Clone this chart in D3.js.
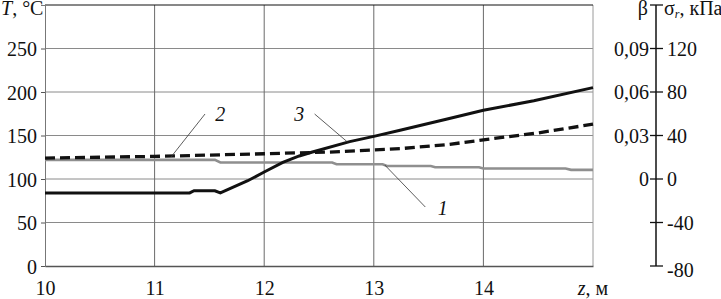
<!DOCTYPE html>
<html>
  <head>
    <script src="https://d3js.org/d3.v7.min.js"></script>
    <style>
      body {
        margin: 0px;
        background: white;
      }
      svg text {
        font-family: "Liberation Serif", "Times New Roman", Times, "DejaVu Serif", serif !important;
        font-size: 20px;
        fill: #111;
      }
      .grid line {
        stroke: #8a8a8a;
        stroke-width: 1;
      }
      .vgrid line {
        stroke: #6a6a6a;
        stroke-width: 1;
      }
    </style>
  </head>
  <body>
    <svg width="721" height="299"></svg>
    <script>
      // ticks
      var zTicks = [10, 11, 12, 13, 14, 15];
      var tTicks = [0, 50, 100, 150, 200, 250];
      var betaTicks = [0, 0.03, 0.06, 0.09];
      var sigmaTicks = [-80, -40, 0, 40, 80, 120];

      // curve 1 (grey)
      var z1 = [10, 11.55, 11.6, 12.62, 12.66, 13.08, 13.12, 13.52, 13.56, 13.96, 14.0, 14.75, 14.8, 15];
      var t1 = [122, 122, 119, 119, 117, 117, 115, 115, 113.5, 113.5, 112, 112, 110.5, 110.5];

      // curve 2 (dashed)
      var z2 = [10, 10.5, 11, 11.5, 12, 12.6, 13, 13.25, 13.67, 14, 14.5, 15];
      var t2 = [124, 125, 126, 127.5, 129, 131, 133.5, 135, 139.5, 145, 153, 163];

      // curve 3 (solid)
      var z3 = [10, 11.32, 11.36, 11.55, 11.6, 11.85, 12.0, 12.17, 12.32, 12.44, 12.78, 13, 13.24, 13.67, 14, 14.46, 15];
      var t3 = [84, 84, 86.5, 86.5, 84, 98, 108, 119, 126.5, 131, 143, 149, 156, 169, 179, 190, 205];

      // curve labels: text position and leader line, in data units
      var labelText = ["1", "2", "3"];
      var labelAt = [[13.63, 58.6], [11.60, 166.7], [12.32, 166.7]];
      var leaderFrom = [[13.47, 67.8], [11.46, 174.7], [12.46, 174.7]];
      var leaderTo = [[13.10, 116.1], [11.15, 125.3], [12.76, 142.5]];

      var plotLeft = 45, plotRight = 593, plotTop = 5, plotBottom = 266;
      var axisX = 656;

      var svg = d3.select("svg");

      var x = d3.scaleLinear().domain([10, 15]).range([plotLeft, plotRight]);
      var y = d3.scaleLinear().domain([0, 300]).range([plotBottom, plotTop]);
      var ySigma = d3.scaleLinear().domain([-80, 160]).range([plotBottom, plotTop]);
      var yBeta = d3.scaleLinear().domain([-0.06, 0.12]).range([plotBottom, plotTop]);

      // horizontal grid
      svg.append("g")
        .attr("class", "grid")
        .selectAll("line")
        .data(tTicks.slice(1))
        .enter()
        .append("line")
        .attr("x1", plotLeft)
        .attr("x2", plotRight)
        .attr("y1", function (d) { return y(d); })
        .attr("y2", function (d) { return y(d); });

      // vertical grid
      svg.append("g")
        .attr("class", "vgrid")
        .selectAll("line")
        .data(zTicks.slice(1, -1))
        .enter()
        .append("line")
        .attr("x1", function (d) { return x(d); })
        .attr("x2", function (d) { return x(d); })
        .attr("y1", plotTop)
        .attr("y2", plotBottom);

      // frame
      svg.append("line")
        .attr("x1", plotRight).attr("x2", plotRight)
        .attr("y1", plotTop).attr("y2", plotBottom)
        .style("stroke", "#9a9a9a");
      svg.append("line")
        .attr("x1", plotLeft).attr("x2", plotRight)
        .attr("y1", plotTop).attr("y2", plotTop)
        .style("stroke", "#111");

      // left axis
      var yAxis = d3.axisLeft(y)
        .tickValues(tTicks)
        .tickSize(4)
        .tickPadding(4)
        .tickFormat(d3.format("d"));
      var gy = svg.append("g")
        .attr("transform", "translate(" + plotLeft + ",0)")
        .call(yAxis);
      gy.select(".domain").style("stroke", "#777");
      gy.selectAll(".tick line").style("stroke", "#555");
      gy.selectAll(".tick text").attr("dy", "0.35em");

      // bottom axis
      var xAxis = d3.axisBottom(x)
        .tickValues(zTicks.slice(0, -1))
        .tickSize(0)
        .tickPadding(15)
        .tickFormat(d3.format("d"));
      var gx = svg.append("g")
        .attr("transform", "translate(0," + plotBottom + ")")
        .call(xAxis);
      gx.select(".domain").style("stroke", "#555").style("stroke-width", 1.3);

      svg.append("text")
        .attr("x", 1)
        .attr("y", 15)
        .html('<tspan font-style="italic">T</tspan>, °C');

      svg.append("text")
        .attr("x", x(15))
        .attr("y", 295)
        .attr("text-anchor", "middle")
        .html('<tspan font-style="italic">z</tspan>, м');

      // right axes
      svg.append("line")
        .attr("x1", axisX).attr("x2", axisX)
        .attr("y1", plotTop).attr("y2", plotBottom)
        .style("stroke", "#111")
        .style("stroke-width", 1.5);

      svg.append("g")
        .selectAll("line")
        .data(sigmaTicks.concat([160]))
        .enter()
        .append("line")
        .attr("x1", axisX - 6)
        .attr("x2", axisX + 7)
        .attr("y1", function (d) { return ySigma(d); })
        .attr("y2", function (d) { return ySigma(d); })
        .style("stroke", "#111")
        .style("stroke-width", 1.3);

      svg.append("g")
        .selectAll("text")
        .data(sigmaTicks)
        .enter()
        .append("text")
        .attr("x", axisX + 11)
        .attr("y", function (d) { return ySigma(d) + (d === -80 ? 4 : 0); })
        .attr("dy", "0.35em")
        .text(function (d) { return d; });

      svg.append("g")
        .selectAll("text")
        .data(betaTicks)
        .enter()
        .append("text")
        .attr("x", axisX - 7)
        .attr("y", function (d) { return yBeta(d); })
        .attr("dy", "0.35em")
        .attr("text-anchor", "end")
        .text(function (d) { return d === 0 ? "0" : d3.format(".2f")(d).replace(".", ","); });

      svg.append("text")
        .attr("x", axisX - 8)
        .attr("y", 15)
        .attr("text-anchor", "end")
        .text("β");

      svg.append("text")
        .attr("x", axisX + 8)
        .attr("y", 15)
        .html('σ<tspan font-style="italic" font-size="12px" dy="3">r</tspan><tspan dy="-3">, кПа</tspan>');

      // curves
      var line = d3.line()
        .x(function (d) { return x(d[0]); })
        .y(function (d) { return y(d[1]); });

      function pairs(zs, ts) {
        return zs.map(function (z, i) { return [z, ts[i]]; });
      }

      svg.append("path")
        .datum(pairs(z1, t1))
        .attr("d", line)
        .style("fill", "none")
        .style("stroke", "#8f8f8f")
        .style("stroke-width", 2.6);

      svg.append("path")
        .datum(pairs(z3, t3))
        .attr("d", line)
        .style("fill", "none")
        .style("stroke", "#111")
        .style("stroke-width", 3);

      svg.append("path")
        .datum(pairs(z2, t2))
        .attr("d", line)
        .style("fill", "none")
        .style("stroke", "#111")
        .style("stroke-width", 3.3)
        .style("stroke-dasharray", "10,5");

      // leaders and labels
      svg.append("g")
        .selectAll("line")
        .data(labelText)
        .enter()
        .append("line")
        .attr("x1", function (d, i) { return x(leaderFrom[i][0]); })
        .attr("y1", function (d, i) { return y(leaderFrom[i][1]); })
        .attr("x2", function (d, i) { return x(leaderTo[i][0]); })
        .attr("y2", function (d, i) { return y(leaderTo[i][1]); })
        .style("stroke", "#333")
        .style("stroke-width", 0.8);

      svg.append("rect")
        .attr("x", x(labelAt[0][0]) - 9)
        .attr("y", y(labelAt[0][1]) - 15)
        .attr("width", 18)
        .attr("height", 19)
        .style("fill", "white");

      svg.append("g")
        .selectAll("text")
        .data(labelText)
        .enter()
        .append("text")
        .attr("x", function (d, i) { return x(labelAt[i][0]); })
        .attr("y", function (d, i) { return y(labelAt[i][1]); })
        .attr("text-anchor", "middle")
        .style("font-style", "italic")
        .text(function (d) { return d; });
    </script>
  </body>
</html>
